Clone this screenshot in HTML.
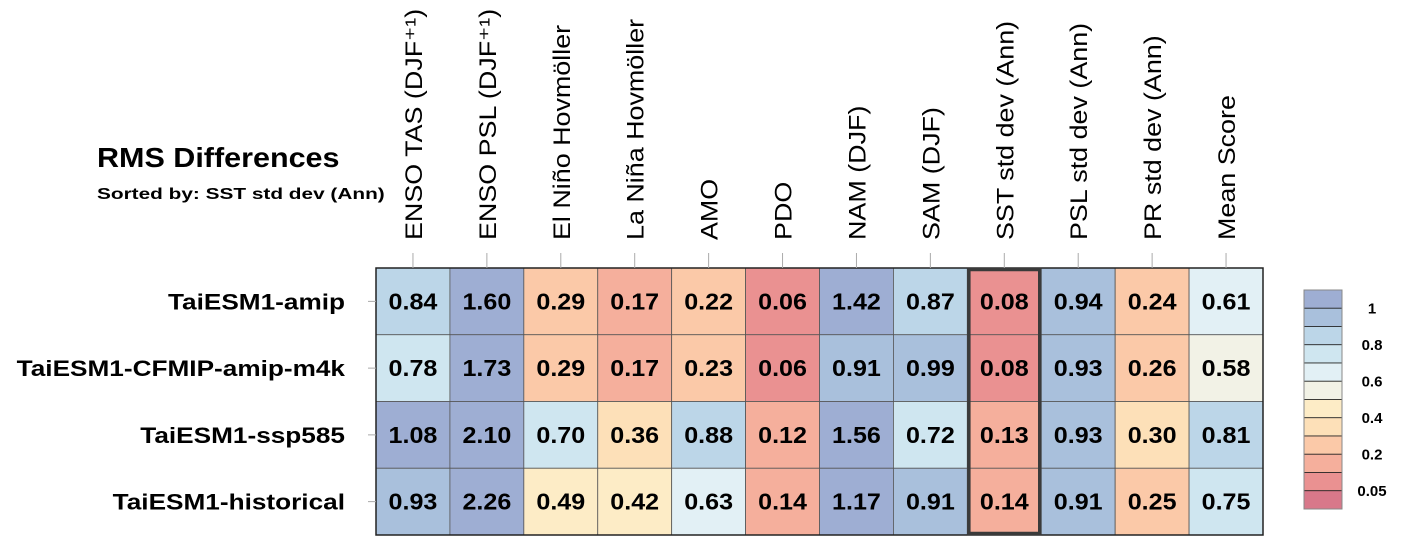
<!DOCTYPE html>
<html><head><meta charset="utf-8"><style>
body{margin:0;background:#fff;width:1407px;height:552px;overflow:hidden;font-family:"Liberation Sans",Arial,sans-serif}
</style></head><body>
<svg id="chart" width="1407" height="552" xmlns="http://www.w3.org/2000/svg" font-family="Liberation Sans, Arial, sans-serif">
<text id="title" x="97" y="167" font-size="28" font-weight="bold">RMS Differences</text>
<text id="subtitle" x="97" y="199" font-size="16" font-weight="bold">Sorted by: SST std dev (Ann)</text>
<g id="cells"></g><g id="labels"></g><g id="cbar"></g>
</svg>
<script>
const columns=["ENSO TAS (DJF⁺¹)","ENSO PSL (DJF⁺¹)","El Niño Hovmöller","La Niña Hovmöller","AMO","PDO","NAM (DJF)","SAM (DJF)","SST std dev (Ann)","PSL std dev (Ann)","PR std dev (Ann)","Mean Score"];
const models=["TaiESM1-amip","TaiESM1-CFMIP-amip-m4k","TaiESM1-ssp585","TaiESM1-historical"];
const row0=[0.84,1.60,0.29,0.17,0.22,0.06,1.42,0.87,0.08,0.94,0.24,0.61];
const row1=[0.78,1.73,0.29,0.17,0.23,0.06,0.91,0.99,0.08,0.93,0.26,0.58];
const row2=[1.08,2.10,0.70,0.36,0.88,0.12,1.56,0.72,0.13,0.93,0.30,0.81];
const row3=[0.93,2.26,0.49,0.42,0.63,0.14,1.17,0.91,0.14,0.91,0.25,0.75];
const levels=[0.05,0.1,0.2,0.3,0.4,0.5,0.6,0.7,0.8,0.9,1.0];
const cbarLabels=["1","0.8","0.6","0.4","0.2","0.05"];
const cbarLabelLevels=[1.0,0.8,0.6,0.4,0.2,0.05];
const highlightCol=8;
const palette=["#d8788a","#ea9191","#f5af9c","#fbc9a8","#fde0b8","#fdecc6","#f2f2e6","#e2f0f5","#cfe6f0","#bcd6e8","#a9c0dc","#9eaed3"];
const rows=[row0,row1,row2,row3];
const NS="http://www.w3.org/2000/svg";
const X0=376,X1=1263,Y0=268,Y1=535;
const cw=(X1-X0)/columns.length, rh=(Y1-Y0)/models.length;
const xc=i=>X0+cw*(i+0.5), yr=j=>Y0+rh*j;
function bin(v){let b=0;for(const l of levels){if(v>=l-1e-9)b++;}return b;}
function mk(tag,attrs,parent){const e=document.createElementNS(NS,tag);for(const k in attrs)e.setAttribute(k,attrs[k]);parent.appendChild(e);return e;}
function stretch(t,f){const L=t.getComputedTextLength();t.setAttribute('textLength',(L*f).toFixed(1));t.setAttribute('lengthAdjust','spacingAndGlyphs');}
const cells=document.getElementById('cells'),labels=document.getElementById('labels'),cb=document.getElementById('cbar');
stretch(document.getElementById('title'),1.09);
stretch(document.getElementById('subtitle'),1.30);
rows.forEach((r,j)=>{r.forEach((v,i)=>{
 const rect=mk('rect',{x:X0+cw*i,y:yr(j),width:cw,height:rh,fill:palette[bin(v)],stroke:'#555','stroke-width':0.8},cells);
 
 
 const t=mk('text',{x:xc(i),y:yr(j)+rh/2+8,'font-size':23,'font-weight':'bold','text-anchor':'middle'},cells);
 t.textContent=v.toFixed(2);
 
 
 stretch(t,1.09);
});});
const border=mk('rect',{x:X0,y:Y0,width:X1-X0,height:Y1-Y0,fill:'none',stroke:'#222','stroke-width':1.5},cells);


const hl=mk('rect',{x:X0+cw*highlightCol+1.5,y:Y0+1.5,width:cw-3,height:Y1-Y0-3,fill:'none',stroke:'#3a3a3a','stroke-width':3.5},cells);


columns.forEach((c,i)=>{
 const tk=mk('line',{x1:xc(i),x2:xc(i),y1:253,y2:268,stroke:'#aaa','stroke-width':1},labels);
 
 
 const t=mk('text',{transform:`translate(${xc(i)+9},240) rotate(-90)`,'font-size':24},labels);
 t.textContent=c;
 
 
 stretch(t,1.12);
});
models.forEach((m,j)=>{
 const tk=mk('line',{x1:368,x2:376,y1:yr(j)+rh/2,y2:yr(j)+rh/2,stroke:'#aaa','stroke-width':1},labels);
 
 
 const t=mk('text',{x:345,y:yr(j)+rh/2+8,'font-size':22,'font-weight':'bold','text-anchor':'end'},labels);
 t.textContent=m;
 
 
 stretch(t,1.19);
});
const CX=1304,CW=38,CT=290,CB=509,bh=(CB-CT)/palette.length;
palette.slice().reverse().forEach((col,k)=>{
 const r=mk('rect',{x:CX,y:CT+bh*k,width:CW,height:bh,fill:col,stroke:'#222','stroke-width':0.8},cb);
 
 
});
const cbo=mk('rect',{x:CX,y:CT,width:CW,height:CB-CT,fill:'none',stroke:'#888','stroke-width':1},cb);


cbarLabels.forEach((l,k)=>{
 const idx=levels.indexOf(cbarLabelLevels[k]);
 const y=CB-bh*(idx+1);
 const t=mk('text',{x:1372,y:y+5,'font-size':15,'font-weight':'bold','text-anchor':'middle'},cb);
 t.textContent=l;
 
 
});
</script>
</body></html>
